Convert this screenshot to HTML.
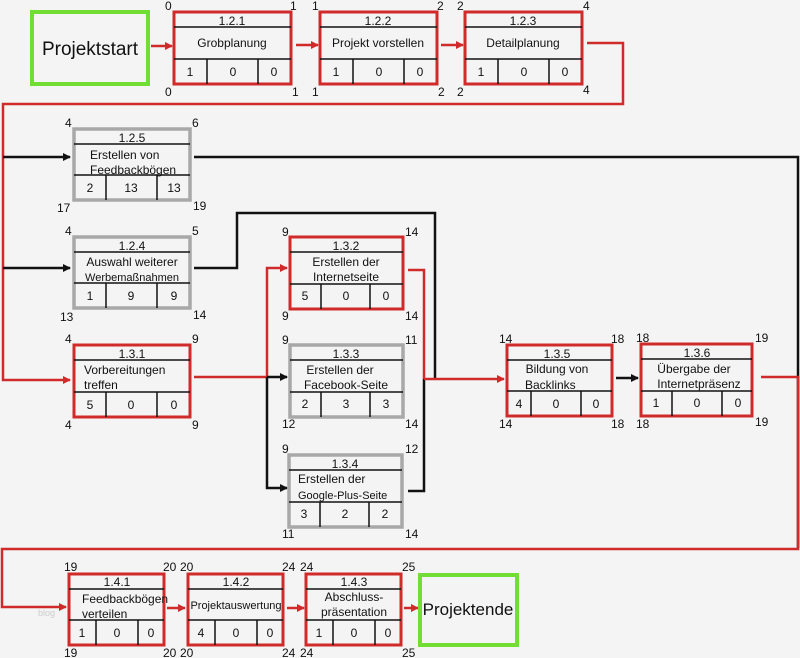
<!DOCTYPE html>
<html><head><meta charset="utf-8"><style>
html,body{margin:0;padding:0;background:#f4f4f4}
svg{display:block}
text{font-family:"Liberation Sans",sans-serif;font-size:12px;fill:#111}
.r{fill:#f4f4f4;stroke:#d02a2a;stroke-width:3}
.g{fill:#f4f4f4;stroke:#a8a8a8;stroke-width:3.5}
.gr{fill:#f4f4f4;stroke:#72dd33;stroke-width:4}
.l{stroke:#111;stroke-width:1.5}
.rl{stroke:#d02a2a;stroke-width:2.5;fill:none}
.bl{stroke:#111;stroke-width:2.5;fill:none}
.c{text-anchor:middle}
.s{font-size:11px}
</style></head><body>
<svg width="800" height="658" viewBox="0 0 800 658" xmlns="http://www.w3.org/2000/svg">
<defs>
<marker id="ar" markerWidth="8" markerHeight="8" refX="7" refY="4" orient="auto" markerUnits="userSpaceOnUse"><path d="M0,0 L8,4 L0,8 z" fill="#d02a2a"/></marker>
<marker id="ab" markerWidth="8" markerHeight="8" refX="7" refY="4" orient="auto" markerUnits="userSpaceOnUse"><path d="M0,0 L8,4 L0,8 z" fill="#111"/></marker>
</defs>

<line x1="151" y1="46" x2="172" y2="46" class="rl" marker-end="url(#ar)"/>
<line x1="296" y1="45" x2="318" y2="45" class="rl" marker-end="url(#ar)"/>
<line x1="441" y1="45" x2="463" y2="45" class="rl" marker-end="url(#ar)"/>
<polyline points="587,43 623,43 623,104 3,104 3,380 70,380" class="rl" marker-end="url(#ar)"/>
<line x1="3" y1="157" x2="70" y2="157" class="bl" marker-end="url(#ab)"/>
<line x1="3" y1="268" x2="70" y2="268" class="bl" marker-end="url(#ab)"/>
<polyline points="194,157 798,157 798,548" class="bl"/>
<polyline points="194,268 237,268 237,213 435,213 435,379" class="bl"/>
<polyline points="194,377 267,377" class="rl"/>
<polyline points="267,377 267,268 287,268" class="rl" marker-end="url(#ar)"/>
<line x1="267" y1="377" x2="287" y2="377" class="bl" marker-end="url(#ab)"/>
<polyline points="267,377 267,488 287,488" class="bl" marker-end="url(#ab)"/>
<polyline points="408,270 424,270 424,379" class="rl"/>
<polyline points="408,491 424,491 424,379" class="bl"/>
<line x1="424" y1="379" x2="504" y2="379" class="rl" marker-end="url(#ar)"/>
<line x1="616" y1="378" x2="638" y2="378" class="bl" marker-end="url(#ab)"/>
<polyline points="761,377 798,377 798,549 2,549 2,607 66,607" class="rl" marker-end="url(#ar)"/>
<line x1="167" y1="608" x2="185" y2="608" class="rl" marker-end="url(#ar)"/>
<line x1="287" y1="608" x2="304" y2="608" class="rl" marker-end="url(#ar)"/>
<line x1="404" y1="608" x2="418" y2="608" class="rl" marker-end="url(#ar)"/>

<rect x="32" y="12" width="116" height="72" class="gr"/>
<text x="90" y="55" class="c" style="font-size:19px">Projektstart</text>
<rect x="420" y="575" width="97" height="70" class="gr"/>
<text x="468" y="615" class="c" style="font-size:17px">Projektende</text>

<rect x="174" y="12" width="117" height="72" class="r"/>
<line x1="174" y1="27" x2="291" y2="27" class="l"/><line x1="174" y1="59" x2="291" y2="59" class="l"/>
<line x1="207" y1="59" x2="207" y2="84" class="l"/><line x1="258" y1="59" x2="258" y2="84" class="l"/>
<text x="232" y="25" class="c">1.2.1</text><text x="232" y="47" class="c">Grobplanung</text>
<text x="190" y="76" class="c">1</text><text x="233" y="76" class="c">0</text><text x="274" y="76" class="c">0</text>
<text x="165" y="10">0</text><text x="290" y="10">1</text><text x="165" y="96">0</text><text x="292" y="96">1</text>

<rect x="320" y="12" width="117" height="72" class="r"/>
<line x1="320" y1="27" x2="437" y2="27" class="l"/><line x1="320" y1="59" x2="437" y2="59" class="l"/>
<line x1="353" y1="59" x2="353" y2="84" class="l"/><line x1="404" y1="59" x2="404" y2="84" class="l"/>
<text x="378" y="25" class="c">1.2.2</text><text x="378" y="47" class="c">Projekt vorstellen</text>
<text x="336" y="76" class="c">1</text><text x="379" y="76" class="c">0</text><text x="420" y="76" class="c">0</text>
<text x="312" y="10">1</text><text x="437" y="10">2</text><text x="312" y="96">1</text><text x="438" y="96">2</text>

<rect x="465" y="12" width="117" height="72" class="r"/>
<line x1="465" y1="27" x2="582" y2="27" class="l"/><line x1="465" y1="59" x2="582" y2="59" class="l"/>
<line x1="498" y1="59" x2="498" y2="84" class="l"/><line x1="549" y1="59" x2="549" y2="84" class="l"/>
<text x="523" y="25" class="c">1.2.3</text><text x="523" y="47" class="c">Detailplanung</text>
<text x="481" y="76" class="c">1</text><text x="524" y="76" class="c">0</text><text x="565" y="76" class="c">0</text>
<text x="457" y="10">2</text><text x="583" y="10">4</text><text x="457" y="96">2</text><text x="583" y="94">4</text>

<rect x="74" y="129" width="116" height="71" class="g"/>
<line x1="74" y1="144" x2="190" y2="144" class="l"/><line x1="74" y1="175" x2="190" y2="175" class="l"/>
<line x1="106" y1="175" x2="106" y2="200" class="l"/><line x1="157" y1="175" x2="157" y2="200" class="l"/>
<text x="132" y="142" class="c">1.2.5</text><text x="90" y="159">Erstellen von</text><text x="90" y="174">Feedbackbögen</text>
<text x="90" y="192" class="c">2</text><text x="131" y="192" class="c">13</text><text x="174" y="192" class="c">13</text>
<text x="65" y="127">4</text><text x="192" y="127">6</text><text x="57" y="212">17</text><text x="193" y="210">19</text>

<rect x="74" y="237" width="116" height="71" class="g"/>
<line x1="74" y1="252" x2="190" y2="252" class="l"/><line x1="74" y1="283" x2="190" y2="283" class="l"/>
<line x1="106" y1="283" x2="106" y2="308" class="l"/><line x1="157" y1="283" x2="157" y2="308" class="l"/>
<text x="132" y="250" class="c">1.2.4</text><text x="132" y="266" class="c">Auswahl weiterer</text><text x="132" y="281" class="c s">Werbemaßnahmen</text>
<text x="90" y="300" class="c">1</text><text x="131" y="300" class="c">9</text><text x="174" y="300" class="c">9</text>
<text x="65" y="235">4</text><text x="192" y="235">5</text><text x="60" y="321">13</text><text x="193" y="319">14</text>

<rect x="74" y="345" width="116" height="72" class="r"/>
<line x1="74" y1="360" x2="190" y2="360" class="l"/><line x1="74" y1="392" x2="190" y2="392" class="l"/>
<line x1="106" y1="392" x2="106" y2="417" class="l"/><line x1="157" y1="392" x2="157" y2="417" class="l"/>
<text x="132" y="358" class="c">1.3.1</text><text x="84" y="374">Vorbereitungen</text><text x="84" y="389">treffen</text>
<text x="90" y="409" class="c">5</text><text x="131" y="409" class="c">0</text><text x="174" y="409" class="c">0</text>
<text x="65" y="343">4</text><text x="192" y="343">9</text><text x="65" y="429">4</text><text x="192" y="429">9</text>

<rect x="290" y="237" width="113" height="72" class="r"/>
<line x1="290" y1="252" x2="403" y2="252" class="l"/><line x1="290" y1="284" x2="403" y2="284" class="l"/>
<line x1="321" y1="284" x2="321" y2="309" class="l"/><line x1="370" y1="284" x2="370" y2="309" class="l"/>
<text x="346" y="250" class="c">1.3.2</text><text x="346" y="266" class="c">Erstellen der</text><text x="346" y="281" class="c">Internetseite</text>
<text x="305" y="300" class="c">5</text><text x="346" y="300" class="c">0</text><text x="386" y="300" class="c">0</text>
<text x="282" y="236">9</text><text x="405" y="236">14</text><text x="282" y="320">9</text><text x="405" y="320">14</text>

<rect x="290" y="345" width="113" height="72" class="g"/>
<line x1="290" y1="360" x2="403" y2="360" class="l"/><line x1="290" y1="392" x2="403" y2="392" class="l"/>
<line x1="321" y1="392" x2="321" y2="417" class="l"/><line x1="370" y1="392" x2="370" y2="417" class="l"/>
<text x="346" y="358" class="c">1.3.3</text><text x="340" y="374" class="c">Erstellen der</text><text x="346" y="389" class="c">Facebook-Seite</text>
<text x="305" y="408" class="c">2</text><text x="346" y="408" class="c">3</text><text x="386" y="408" class="c">3</text>
<text x="282" y="344">9</text><text x="405" y="344">11</text><text x="282" y="428">12</text><text x="405" y="428">14</text>

<rect x="289" y="455" width="113" height="72" class="g"/>
<line x1="289" y1="470" x2="402" y2="470" class="l"/><line x1="289" y1="502" x2="402" y2="502" class="l"/>
<line x1="320" y1="502" x2="320" y2="527" class="l"/><line x1="369" y1="502" x2="369" y2="527" class="l"/>
<text x="345" y="468" class="c">1.3.4</text><text x="298" y="483">Erstellen der</text><text x="298" y="499" class="s">Google-Plus-Seite</text>
<text x="304" y="518" class="c">3</text><text x="345" y="518" class="c">2</text><text x="385" y="518" class="c">2</text>
<text x="282" y="453">9</text><text x="405" y="453">12</text><text x="282" y="538">11</text><text x="405" y="538">14</text>

<rect x="507" y="345" width="105" height="71" class="r"/>
<line x1="507" y1="360" x2="612" y2="360" class="l"/><line x1="507" y1="391" x2="612" y2="391" class="l"/>
<line x1="531" y1="391" x2="531" y2="416" class="l"/><line x1="581" y1="391" x2="581" y2="416" class="l"/>
<text x="557" y="358" class="c">1.3.5</text><text x="557" y="373" class="c">Bildung von</text><text x="525" y="389">Backlinks</text>
<text x="519" y="408" class="c">4</text><text x="556" y="408" class="c">0</text><text x="596" y="408" class="c">0</text>
<text x="499" y="343">14</text><text x="611" y="343">18</text><text x="499" y="428">14</text><text x="611" y="428">18</text>

<rect x="641" y="344" width="111" height="72" class="r"/>
<line x1="641" y1="359" x2="752" y2="359" class="l"/><line x1="641" y1="391" x2="752" y2="391" class="l"/>
<line x1="672" y1="391" x2="672" y2="416" class="l"/><line x1="722" y1="391" x2="722" y2="416" class="l"/>
<text x="697" y="357" class="c">1.3.6</text><text x="694" y="373" class="c">Übergabe der</text><text x="699" y="388" class="c">Internetpräsenz</text>
<text x="656" y="407" class="c">1</text><text x="697" y="407" class="c">0</text><text x="738" y="407" class="c">0</text>
<text x="636" y="342">18</text><text x="755" y="342">19</text><text x="636" y="428">18</text><text x="755" y="426">19</text>

<rect x="69" y="574" width="95" height="71" class="r"/>
<line x1="69" y1="589" x2="164" y2="589" class="l"/><line x1="69" y1="620" x2="164" y2="620" class="l"/>
<line x1="96" y1="620" x2="96" y2="645" class="l"/><line x1="138" y1="620" x2="138" y2="645" class="l"/>
<text x="117" y="586" class="c">1.4.1</text><text x="82" y="603">Feedbackbögen</text><text x="82" y="618">verteilen</text>
<text x="82" y="637" class="c">1</text><text x="117" y="637" class="c">0</text><text x="151" y="637" class="c">0</text>
<text x="64" y="571">19</text><text x="163" y="571">20</text><text x="64" y="657">19</text><text x="163" y="657">20</text>
<text x="38" y="616" style="font-size:9px;fill:#ccc">blog</text>

<rect x="188" y="574" width="95" height="71" class="r"/>
<line x1="188" y1="589" x2="283" y2="589" class="l"/><line x1="188" y1="620" x2="283" y2="620" class="l"/>
<line x1="215" y1="620" x2="215" y2="645" class="l"/><line x1="257" y1="620" x2="257" y2="645" class="l"/>
<text x="236" y="586" class="c">1.4.2</text><text x="236" y="609" class="c s">Projektauswertung</text>
<text x="201" y="637" class="c">4</text><text x="236" y="637" class="c">0</text><text x="270" y="637" class="c">0</text>
<text x="180" y="571">20</text><text x="282" y="571">24</text><text x="180" y="657">20</text><text x="282" y="657">24</text>

<rect x="306" y="574" width="95" height="71" class="r"/>
<line x1="306" y1="589" x2="401" y2="589" class="l"/><line x1="306" y1="620" x2="401" y2="620" class="l"/>
<line x1="333" y1="620" x2="333" y2="645" class="l"/><line x1="375" y1="620" x2="375" y2="645" class="l"/>
<text x="354" y="586" class="c">1.4.3</text><text x="354" y="601" class="c">Abschluss-</text><text x="354" y="616" class="c">präsentation</text>
<text x="319" y="637" class="c">1</text><text x="354" y="637" class="c">0</text><text x="388" y="637" class="c">0</text>
<text x="300" y="571">24</text><text x="402" y="571">25</text><text x="300" y="657">24</text><text x="402" y="657">25</text>
</svg>
</body></html>
